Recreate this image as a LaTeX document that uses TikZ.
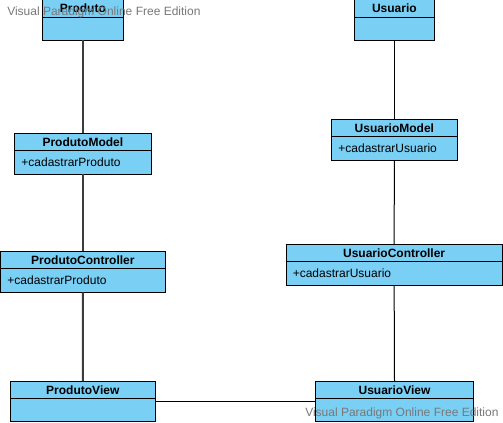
\documentclass[tikz,border=0pt]{standalone}
\usepackage{fontspec}
\setmainfont{Liberation Sans}
\begin{document}
\begin{tikzpicture}[x=0.75pt,y=-0.75pt,
  clsbox/.style={draw=black,line width=0.75pt,fill=clsfill,inner sep=0pt,outer sep=0pt},
  ttl/.style={font=\fontsize{9pt}{10pt}\selectfont\bfseries,inner sep=0pt,anchor=center},
  mth/.style={font=\fontsize{9pt}{10pt}\selectfont,inner sep=0pt,anchor=west},
  linkL/.style={draw=linkgrey,line width=1.5pt},
  linkR/.style={draw=black,line width=0.75pt},
  wm/.style={font=\fontsize{9pt}{10pt}\selectfont,text=wmgrey,inner sep=0pt,anchor=west}]
\definecolor{clsfill}{RGB}{122,207,245}
\definecolor{linkgrey}{RGB}{60,60,60}
\definecolor{wmgrey}{RGB}{120,120,120}
\useasboundingbox[fill=white] (0,0) rectangle (503,422);
% #1 name, #2 x1, #3 y1, #4 x2, #5 y2, #6 ydiv, #7 title, #8 method
\newcommand\umlcls[8]{%
  \node[clsbox,minimum width={(#4-#2)*0.75pt},minimum height={(#5-#3)*0.75pt}] (#1) at ({(#2+#4)/2},{(#3+#5)/2}) {};
  \draw[line width=0.75pt] (#2,#6) -- (#4,#6);
  \node[ttl] (#1-t) at ({(#2+#4)/2},{(#3+#6)/2+0.5}) {#7};
  \node[mth] (#1-m) at ({#2+6.5},{(#6+#5)/2}) {#8};
}
\umlcls{produto}{42.7}{-1}{123}{40.3}{17.3}{Produto}{}
\umlcls{pmodel}{14.7}{133.3}{151}{174.3}{150.3}{ProdutoModel}{+cadastrarProduto}
\umlcls{pctrl}{0.7}{251.3}{165}{292.3}{268.7}{ProdutoController}{+cadastrarProduto}
\umlcls{pview}{10.3}{381.3}{155.3}{421.5}{398.3}{ProdutoView}{}
\umlcls{usuario}{354}{-1}{434.7}{40.3}{17.3}{Usuario}{}
\umlcls{umodel}{331.7}{119.3}{457}{160.3}{136.3}{UsuarioModel}{+cadastrarUsuario}
\umlcls{uctrl}{286}{244.3}{502.3}{285.3}{261.3}{UsuarioController}{+cadastrarUsuario}
\umlcls{uview}{315.7}{381.3}{473.3}{421.5}{398.3}{UsuarioView}{}
% connectors
\draw[linkL] (produto.south) -- (pmodel.north);
\draw[linkL] (pmodel.south) -- (pctrl.north);
\draw[linkL] (pctrl.south) -- (pview.north);
\draw[linkR] (usuario.south) -- (umodel.north);
\draw[linkR] (umodel.south) -- (uctrl.north);
\draw[linkR] (uctrl.south) -- (uview.north);
\draw[linkR] (pview.east) -- (uview.west);
% watermarks
\node[wm] (wm1) at (7,12) {Visual Paradigm Online Free Edition};
\node[wm] (wm2) at (305,413) {Visual Paradigm Online Free Edition};
\end{tikzpicture}
\end{document}
